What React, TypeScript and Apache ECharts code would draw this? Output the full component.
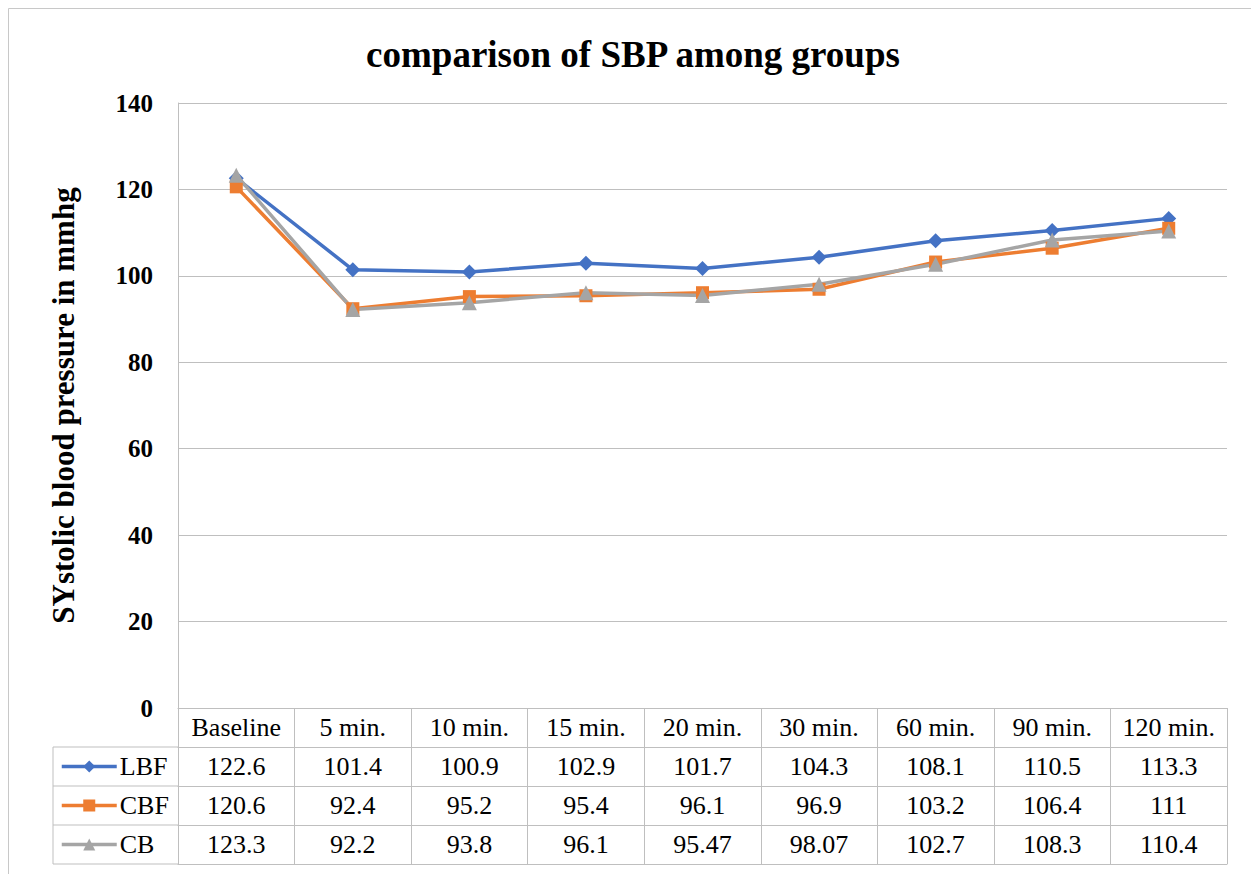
import React, { useEffect, useRef } from "react";
import * as echarts from "echarts";

const categories = ["Baseline", "5 min.", "10 min.", "15 min.", "20 min.", "30 min.", "60 min.", "90 min.", "120 min."];
const seriesNames = ["LBF", "CBF", "CB"];
const lbfValues = [122.6, 101.4, 100.9, 102.9, 101.7, 104.3, 108.1, 110.5, 113.3];
const cbfValues = [120.6, 92.4, 95.2, 95.4, 96.1, 96.9, 103.2, 106.4, 111];
const cbValues = [123.3, 92.2, 93.8, 96.1, 95.47, 98.07, 102.7, 108.3, 110.4];
const yTicks = { min: 0, max: 140, interval: 20 };

const titleText = "comparison of SBP among groups";
const yAxisTitle = "SYstolic blood pressure in mmhg";

const FONT = "Liberation Serif";
const LINE_GRAY = "#bfbfbf";
const COLORS = ["#4472C4", "#ED7D31", "#A5A5A5"];
const SYMBOLS = ["diamond", "rect", "triangle"];
const SYMBOL_SIZES = [15, 13, 15];

const GRID = { left: 170, top: 95, width: 1049, height: 605 };
const ROW_H = 39;
const LEGEND_LEFT = 45;
const TABLE_FONT = 26;

export default function App() {
  const ref = useRef<HTMLDivElement>(null);

  useEffect(() => {
    if (!ref.current) return;
    const chart = echarts.init(ref.current, undefined, { renderer: "svg" });
    const allValues = [lbfValues, cbfValues, cbValues];
    const gridBottom = GRID.top + GRID.height;

    const rowAxis = (data: string[], offset: number, showLabel: boolean, showTick: boolean) => ({
      type: "category",
      position: "bottom",
      offset,
      data,
      boundaryGap: true,
      axisLine: { show: true, lineStyle: { color: LINE_GRAY, width: 1 } },
      axisTick: { show: showTick, length: ROW_H, inside: false, interval: 0, alignWithLabel: false, lineStyle: { color: LINE_GRAY, width: 1 } },
      axisLabel: { show: showLabel, interval: 0, margin: (ROW_H - TABLE_FONT) / 2, fontFamily: FONT, fontSize: TABLE_FONT, lineHeight: TABLE_FONT, color: "#000" },
      splitLine: { show: false },
    });

    const xAxes: any[] = [rowAxis(categories, 0, true, true)];
    allValues.forEach((vals, i) => {
      xAxes.push(rowAxis(vals.map((v) => String(v)), ROW_H * (i + 1), true, true));
    });
    xAxes.push(rowAxis(categories, ROW_H * 4, false, false));

    const graphicEls: any[] = [
      {
        type: "rect",
        shape: { x: 0.5, y: 0.5, width: 1248.5, height: 900 },
        style: { fill: "none", stroke: "#c8c8c8", lineWidth: 1 },
        silent: true,
      },
    ];
    for (let r = 1; r <= 4; r++) {
      const y = gridBottom + ROW_H * r;
      graphicEls.push({
        type: "line",
        shape: { x1: LEGEND_LEFT, y1: y, x2: GRID.left, y2: y },
        style: { stroke: LINE_GRAY, lineWidth: 1 },
        silent: true,
      });
    }
    graphicEls.push({
      type: "line",
      shape: { x1: LEGEND_LEFT, y1: gridBottom + ROW_H, x2: LEGEND_LEFT, y2: gridBottom + ROW_H * 4 },
      style: { stroke: LINE_GRAY, lineWidth: 1 },
      silent: true,
    });

    chart.setOption({
      animation: false,
      backgroundColor: "#ffffff",
      title: {
        text: titleText,
        left: "center",
        top: 23,
        textStyle: { fontFamily: FONT, fontSize: 37, fontWeight: "bold", color: "#000" },
      },
      grid: { left: GRID.left, top: GRID.top, width: GRID.width, height: GRID.height, containLabel: false },
      legend: seriesNames.map((name, i) => ({
        data: [name],
        left: LEGEND_LEFT + 7,
        top: gridBottom + ROW_H * (i + 1) + ROW_H / 2 - TABLE_FONT / 2,
        padding: 0,
        itemWidth: 55,
        itemHeight: 15,
        selectedMode: false,
        lineStyle: { width: 3.5 },
        textStyle: { fontFamily: FONT, fontSize: TABLE_FONT, lineHeight: TABLE_FONT, color: "#000", padding: [0, 0, 0, -2] },
      })),
      xAxis: xAxes,
      yAxis: {
        type: "value",
        min: yTicks.min,
        max: yTicks.max,
        interval: yTicks.interval,
        name: yAxisTitle,
        nameLocation: "middle",
        nameGap: 99,
        nameTextStyle: { fontFamily: FONT, fontSize: 31, fontWeight: "bold", color: "#000" },
        axisLine: { show: true, lineStyle: { color: LINE_GRAY, width: 1 } },
        axisTick: { show: false },
        axisLabel: { margin: 25, fontFamily: FONT, fontSize: 25, fontWeight: "bold", color: "#000" },
        splitLine: { show: true, lineStyle: { color: LINE_GRAY, width: 1 } },
      },
      series: seriesNames.map((name, i) => ({
        name,
        type: "line",
        xAxisIndex: 0,
        yAxisIndex: 0,
        data: allValues[i],
        symbol: SYMBOLS[i],
        symbolSize: SYMBOL_SIZES[i],
        lineStyle: { color: COLORS[i], width: 3.5 },
        itemStyle: { color: COLORS[i] },
        emphasis: { disabled: true },
      })),
      graphic: graphicEls,
    });

    return () => chart.dispose();
  }, []);

  return <div ref={ref} style={{ width: 1250, height: 866 }} />;
}
